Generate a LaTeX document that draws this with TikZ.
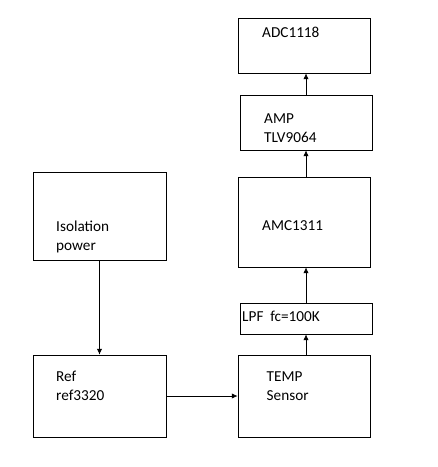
\documentclass[tikz,border=0pt]{standalone}
\usepackage{fontspec}
\setmainfont{Carlito}
\usetikzlibrary{arrows.meta}

\tikzset{
  blk/.style={draw,line width=0.6pt,minimum width=3.96cm,inner sep=0pt},
  txt/.style={anchor=base west,align=left,inner sep=0pt,font=\fontsize{13}{16.2}\selectfont},
  conn/.style={-{Latex[length=5pt,width=4.5pt]},line width=0.6pt}
}

\begin{document}
\begin{tikzpicture}[x=0.03cm,y=-0.03cm]
  \useasboundingbox (0,0) rectangle (437,467);
  % right column
  \node[blk,minimum height=1.65cm] (ADC) at (304.5,45.5) {};
  \node[blk,minimum height=1.65cm] (AMP) at (306,122.5) {};
  \node[blk,minimum height=2.7cm] (AMC) at (304,222) {};
  \node[blk,minimum height=0.93cm] (LPF) at (306,318.5) {};
  \node[blk,minimum height=2.46cm] (TEMP) at (304,396) {};
  % left column
  \node[blk,minimum width=3.99cm,minimum height=2.64cm] (ISO) at (99.5,216) {};
  \node[blk,minimum width=3.99cm,minimum height=2.46cm] (REF) at (99.5,396) {};
  %% texts (base = last line)
  \node[txt] (ADCt) at (262,37.3) {ADC1118};
  \node[txt] (AMPt) at (264,142.7) {AMP\\TLV9064};
  \node[txt] (AMCt) at (262,230) {AMC1311};
  \node[txt] (LPFt) at (242,321.7) {LPF~~fc=100K};
  \node[txt] (TEMPt) at (266.5,400) {TEMP\\Sensor};
  \node[txt] (ISOt) at (56,250) {Isolation\\power};
  \node[txt] (REFt) at (56,400.7) {Ref\\ref3320};
  %% connectors
  \path[conn] (AMP.north) edge (AMP.north |- ADC.south)
              (AMC.north -| AMP.north) edge (AMP.south)
              (LPF.north) edge (LPF.north |- AMC.south)
              (TEMP.north -| LPF.north) edge (LPF.south);
  \path[conn] (ISO) edge (REF) (REF) edge (TEMP);
\end{tikzpicture}
\end{document}
